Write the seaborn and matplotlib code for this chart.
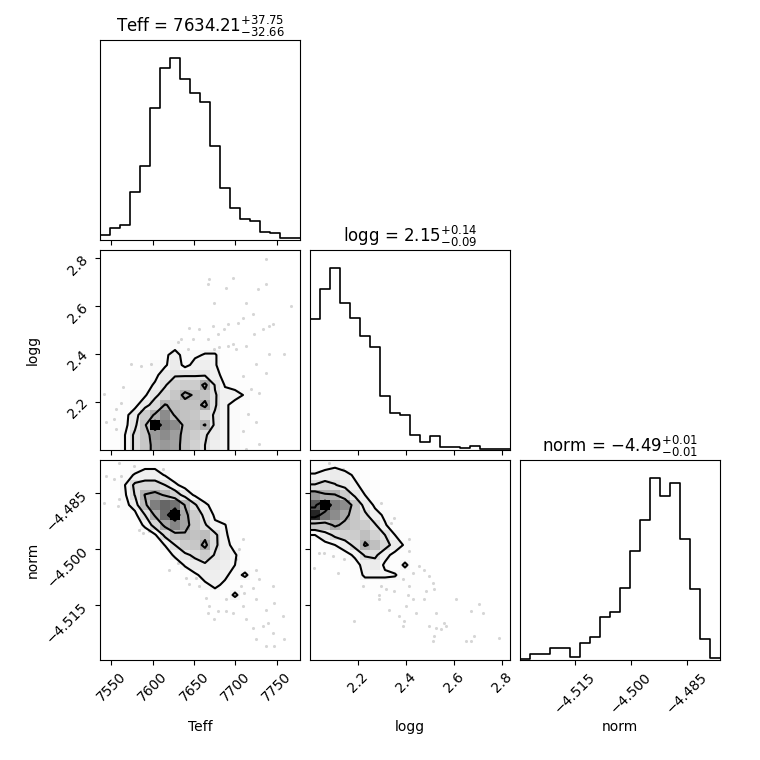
import numpy as np
import pandas as pd
import matplotlib
matplotlib.use("Agg")
import matplotlib.pyplot as plt
from matplotlib.colors import LinearSegmentedColormap
import seaborn as sns

# ---------------- data ----------------
labels = ["Teff", "logg", "norm"]
ranges = [(7536.5, 7778.0), (1.998, 2.833), (-4.5296, -4.4761)]
ticks = [[7550, 7600, 7650, 7700, 7750],
         [2.2, 2.4, 2.6, 2.8],
         [-4.515, -4.500, -4.485]]
medians = ["7634.21", "2.15", "-4.49"]
err_minus = ["32.66", "0.09", "0.01"]
err_plus = ["37.75", "0.14", "0.01"]

hist_teff = [15, 35, 45, 143, 221, 395, 513, 543, 480, 438,
             413, 281, 156, 96, 63, 56, 25, 21, 6, 6]
hist_logg = [394, 482, 545, 440, 397, 343, 309, 163, 112, 105,
             45, 23, 43, 10, 10, 7, 13, 2, 2, 2]
hist_norm = [2, 18, 18, 35, 35, 10, 52, 68, 128, 143,
             215, 328, 419, 545, 493, 530, 363, 213, 63, 7]

# contour levels (outer -> inner), same units as the density grids (max = 100)
levels = [4, 12, 30, 70]

Z = [0] * 20
# 2D density grids: rows from top (high y) to bottom (low y), columns low x -> high x
dens_logg_teff = [
    Z, Z, Z, Z, Z, Z, Z, Z, Z,
    [0, 0, 0, 0, 0, 0, 1, 2, 1, 0, 1, 1, 0, 0, 0, 0, 0, 0, 0, 0],
    [0, 0, 0, 0, 0, 1, 3, 6, 2, 3, 4.5, 4.5, 1, 0, 0, 0, 0, 0, 0, 0],
    [0, 0, 0, 0, 1, 2, 3, 8, 2, 6, 7, 4.5, 1, 0, 0, 0, 0, 0, 0, 0],
    [0, 0, 0, 1, 1, 2, 8, 11, 11, 11, 10.5, 6, 2, 1, 0, 0, 0, 0, 0, 0],
    [0, 0, 0, 1, 1, 5, 11, 18, 20, 20, 34, 11, 3.5, 2, 1, 0, 0, 0, 0, 0],
    [0, 0, 1, 2, 3, 10, 16, 22, 34, 28, 24, 13, 6, 6, 3.5, 1, 0, 0, 0, 0],
    [0, 1, 1, 2, 9, 16, 31, 26, 24, 24, 34, 13, 5, 2, 1, 0, 0, 0, 0, 0],
    [0, 1, 2, 8, 20, 32, 45, 28, 24, 22, 16, 11, 5, 2, 1, 0, 0, 0, 0, 0],
    [0, 1, 2, 10, 24, 100, 50, 45, 25, 24, 31, 9, 5, 2, 1, 0, 0, 0, 0, 0],
    [0, 1, 4, 14, 22, 40, 45, 38, 24, 20, 13, 8, 5, 2, 1, 0, 0, 0, 0, 0],
    [0, 1, 4, 14, 22, 36, 40, 36, 24, 18, 12, 7, 5, 2, 1, 0, 0, 0, 0, 0],
]
dens_norm_teff = [
    [0, 0, 0, 1, 2, 2, 1, 0, 0, 0, 0, 0, 0, 0, 0, 0, 0, 0, 0, 0],
    [0, 0, 2, 4.5, 7, 7, 3.5, 1, 0, 0, 0, 0, 0, 0, 0, 0, 0, 0, 0, 0],
    [0, 1, 4, 14, 16, 16, 12, 5, 2, 1, 0, 0, 0, 0, 0, 0, 0, 0, 0, 0],
    [0, 0, 3, 12.5, 31, 36, 28, 18, 8, 3, 1, 0, 0, 0, 0, 0, 0, 0, 0, 0],
    [0, 0, 2, 7, 26, 50, 60, 55, 29, 13, 5, 2, 0, 0, 0, 0, 0, 0, 0, 0],
    [0, 0, 1, 2, 12, 32, 58, 100, 34, 20, 9, 3, 1, 0, 0, 0, 0, 0, 0, 0],
    [0, 0, 0, 1, 5, 16, 34, 48, 36, 22, 13, 5, 4.2, 1, 0, 0, 0, 0, 0, 0],
    [0, 0, 0, 0, 1, 3, 14, 25, 28, 24, 26, 14, 5, 1, 0, 0, 0, 0, 0, 0],
    [0, 0, 0, 0, 0, 1, 4.2, 12, 20, 22, 34, 14, 6, 2, 0, 0, 0, 0, 0, 0],
    [0, 0, 0, 0, 0, 0, 1, 5, 10, 14, 20, 11, 8, 4.5, 1, 0, 0, 0, 0, 0],
    [0, 0, 0, 0, 0, 0, 0, 1, 4.5, 8, 10, 8, 7, 4, 1, 0, 0, 0, 0, 0],
    [0, 0, 0, 0, 0, 0, 0, 0, 1, 3, 6, 7, 5, 2, 5, 1, 0, 0, 0, 0],
    [0, 0, 0, 0, 0, 0, 0, 0, 0, 1, 3, 5, 3, 1, 0, 0, 0, 0, 0, 0],
    [0, 0, 0, 0, 0, 0, 0, 0, 0, 0, 0, 2, 1, 5, 1, 0, 0, 0, 0, 0],
    Z, Z, Z, Z, Z, Z,
]
dens_norm_logg = [
    [1, 2, 2.5, 1, 0, 0, 0, 0, 0, 0, 0, 0, 0, 0, 0, 0, 0, 0, 0, 0],
    [4.5, 6, 8, 6, 3, 1, 0, 0, 0, 0, 0, 0, 0, 0, 0, 0, 0, 0, 0, 0],
    [12.5, 16, 12.5, 9, 5, 2, 1, 0, 0, 0, 0, 0, 0, 0, 0, 0, 0, 0, 0, 0],
    [40, 32, 31, 20, 10, 4, 1, 0, 0, 0, 0, 0, 0, 0, 0, 0, 0, 0, 0, 0],
    [65, 100, 50, 45, 22, 8, 3, 1, 0, 0, 0, 0, 0, 0, 0, 0, 0, 0, 0, 0],
    [85, 55, 45, 35, 22, 14, 6, 3, 1, 0, 0, 0, 0, 0, 0, 0, 0, 0, 0, 0],
    [20, 22, 33, 26, 22, 20, 13, 4.5, 1, 0, 0, 0, 0, 0, 0, 0, 0, 0, 0, 0],
    [4, 8, 14, 18, 20, 25, 18, 12, 4, 1, 0, 0, 0, 0, 0, 0, 0, 0, 0, 0],
    [1, 2, 4, 7, 15, 32, 25, 16, 8, 3, 1, 0, 0, 0, 0, 0, 0, 0, 0, 0],
    [0, 1, 1, 2, 5, 13, 14, 6, 2, 1, 0, 0, 0, 0, 0, 0, 0, 0, 0, 0],
    [0, 0, 0, 1, 2, 6, 8, 3, 1, 5, 1, 0, 0, 0, 0, 0, 0, 0, 0, 0],
    [0, 0, 0, 0, 1, 5, 5, 5, 4.5, 1, 1, 0, 0, 0, 0, 0, 0, 0, 0, 0],
    [0, 0, 0, 0, 0, 1, 1, 1, 1, 1, 1, 0, 0, 0, 0, 0, 0, 0, 0, 0],
    Z, Z, Z, Z, Z, Z, Z,
]

# scattered samples outside the contours
pts_a_teff = [7736.9, 7668.5, 7666.5, 7688.6, 7696.7, 7726.9, 7736.9, 7767.1, 7674.6, 7712.8,
              7720.8, 7702.7, 7708.8, 7690.7, 7686.6, 7678.6, 7672.5, 7656.4, 7644.4, 7648.4,
              7634.3, 7630.3, 7666.5, 7680.6, 7690.7, 7696.7, 7700.7, 7712.8, 7722.9, 7741.0,
              7745.0, 7732.9, 7759.1, 7741.0, 7724.9, 7736.9, 7708.8, 7718.8, 7728.9, 7714.8,
              7724.9, 7708.8, 7728.9, 7712.8, 7586.0, 7598.1, 7563.9, 7541.7, 7561.9, 7555.8,
              7543.7, 7553.8, 7555.8, 7574.0, 7642.4, 7674.6]
pts_a_logg = [2.794, 2.711, 2.690, 2.676, 2.718, 2.669, 2.690, 2.599, 2.613, 2.613,
              2.565, 2.530, 2.551, 2.523, 2.502, 2.481, 2.516, 2.502, 2.509, 2.460,
              2.460, 2.447, 2.460, 2.426, 2.433, 2.440, 2.419, 2.433, 2.481, 2.516,
              2.523, 2.502, 2.398, 2.398, 2.356, 2.321, 2.307, 2.252, 2.238, 2.148,
              2.113, 2.078, 2.023, 2.002, 2.349, 2.356, 2.259, 2.231, 2.196, 2.168,
              2.113, 2.127, 2.085, 2.356, 2.419, 2.419]

pts_b_teff = [7543.7, 7553.8, 7561.9, 7541.7, 7559.8, 7557.8, 7584.0, 7588.0, 7596.1, 7620.2,
              7630.3, 7640.3, 7652.4, 7644.4, 7656.4, 7664.5, 7668.5, 7678.6, 7688.6, 7696.7,
              7708.8, 7710.8, 7706.8, 7700.7, 7704.7, 7708.8, 7724.9, 7728.9, 7720.8, 7724.9,
              7745.0, 7747.0, 7736.9, 7712.8, 7720.8, 7732.9, 7739.0, 7745.0, 7757.1, 7759.1,
              7724.9, 7736.9, 7747.0, 7559.8, 7612.2, 7578.0, 7674.6, 7666.5, 7688.6]
pts_b_norm = [-4.4804, -4.4813, -4.4804, -4.4875, -4.4866, -4.4884, -4.4947, -4.4955, -4.4951, -4.5054,
              -4.5036, -4.5076, -4.5076, -4.5094, -4.5098, -4.5129, -4.5152, -4.5165, -4.5165, -4.5170,
              -4.5152, -4.5116, -4.5098, -4.5027, -4.5000, -4.4973, -4.5054, -4.5080, -4.5103, -4.5134,
              -4.5098, -4.5143, -4.5161, -4.5187, -4.5210, -4.5205, -4.5196, -4.5223, -4.5179, -4.5241,
              -4.5241, -4.5259, -4.5259, -4.4768, -4.4786, -4.4777, -4.5187, -4.5170, -4.5134]

pts_c_logg = [2.079, 2.134, 2.295, 2.336, 2.350, 2.413, 2.413, 2.037, 2.058, 2.016,
              2.093, 2.141, 2.114, 2.218, 2.295, 2.288, 2.315, 2.350, 2.385, 2.413,
              2.406, 2.427, 2.455, 2.475, 2.496, 2.517, 2.510, 2.482, 2.427, 2.399,
              2.371, 2.329, 2.385, 2.392, 2.441, 2.475, 2.524, 2.559, 2.545, 2.524,
              2.496, 2.517, 2.510, 2.566, 2.608, 2.670, 2.705, 2.719, 2.684, 2.649,
              2.670, 2.789, 2.183, 2.288]
pts_c_norm = [-4.4768, -4.4786, -4.4875, -4.4929, -4.4915, -4.4973, -4.5005, -4.5009, -4.5009, -4.5049,
              -4.5018, -4.5027, -4.5063, -4.5098, -4.5098, -4.5121, -4.5107, -4.5112, -4.5080, -4.5098,
              -4.5121, -4.5063, -4.5045, -4.5054, -4.5071, -4.5107, -4.5089, -4.5112, -4.5134, -4.5152,
              -4.5179, -4.5161, -4.5205, -4.5192, -4.5170, -4.5134, -4.5170, -4.5196, -4.5214, -4.5210,
              -4.5205, -4.5232, -4.5245, -4.5205, -4.5134, -4.5165, -4.5147, -4.5170, -4.5232, -4.5245,
              -4.5245, -4.5236, -4.5192, -4.5134]

hists = [hist_teff, hist_logg, hist_norm]
pairs = {(1, 0): (dens_logg_teff, pts_a_teff, pts_a_logg),
         (2, 0): (dens_norm_teff, pts_b_teff, pts_b_norm),
         (2, 1): (dens_norm_logg, pts_c_logg, pts_c_norm)}

# ---------------- drawing ----------------
# black with opacity growing linearly with density (transparent at zero)
density_cmap = LinearSegmentedColormap.from_list("density_cmap", [(0, 0, 0, 0), (0, 0, 0, 1)])

K = 3
fig, axes = plt.subplots(K, K, figsize=(7.6, 7.6), dpi=100)
lb = 1.0 / 7.6
tr = 7.2 / 7.6
fig.subplots_adjust(left=lb, bottom=lb, right=tr, top=tr, wspace=0.05, hspace=0.05)


def draw_density(ax, grid, xr, yr, px, py):
    H = np.flipud(np.array(grid, dtype=float))
    ny, nx = H.shape
    xe = np.linspace(xr[0], xr[1], nx + 1)
    ye = np.linspace(yr[0], yr[1], ny + 1)
    xc = 0.5 * (xe[1:] + xe[:-1])
    yc = 0.5 * (ye[1:] + ye[:-1])
    H2 = H.min() + np.zeros((ny + 4, nx + 4))
    H2[2:-2, 2:-2] = H
    H2[2:-2, 1] = H[:, 0]
    H2[2:-2, -2] = H[:, -1]
    H2[1, 2:-2] = H[0]
    H2[-2, 2:-2] = H[-1]
    H2[1, 1] = H[0, 0]
    H2[1, -2] = H[0, -1]
    H2[-2, 1] = H[-1, 0]
    H2[-2, -2] = H[-1, -1]
    dx = xc[1] - xc[0]
    dy = yc[1] - yc[0]
    X2 = np.concatenate([xc[0] + np.array([-2, -1]) * dx, xc, xc[-1] + np.array([1, 2]) * dx])
    Y2 = np.concatenate([yc[0] + np.array([-2, -1]) * dy, yc, yc[-1] + np.array([1, 2]) * dy])

    pts = pd.DataFrame({"x": px, "y": py})
    sns.scatterplot(data=pts, x="x", y="y", ax=ax, color="k", s=5, alpha=0.16,
                    linewidth=0, zorder=-1, legend=False)
    ax.contourf(X2, Y2, H2, [min(levels), H.max()], colors=["white"], antialiased=False)
    ax.pcolormesh(xe, ye, H, cmap=density_cmap, vmin=0, vmax=H.max(), shading="flat")
    ax.contour(X2, Y2, H2, sorted(levels), colors="k", linewidths=1.5)
    ax.set_xlim(xr)
    ax.set_ylim(yr)


for i in range(K):
    for j in range(K):
        ax = axes[i, j]
        if j > i:
            ax.set_visible(False)
            continue
        if i == j:
            lo, hi = ranges[i]
            counts = np.array(hists[i], dtype=float)
            nb = len(counts)
            edges = np.linspace(lo, hi, nb + 1)
            centers = 0.5 * (edges[1:] + edges[:-1])
            hdf = pd.DataFrame({"v": centers, "w": counts})
            sns.histplot(data=hdf, x="v", weights="w", bins=nb, binrange=(lo, hi),
                         element="step", fill=False, color="k", linewidth=1.2, ax=ax)
            ax.set_xlim(lo, hi)
            ax.set_ylim(0, 1.1 * counts.max())
            ax.set_yticks([])
            ax.set_ylabel("")
            ax.set_title("{0} = ${1}_{{-{2}}}^{{+{3}}}$".format(
                labels[i], medians[i], err_minus[i], err_plus[i]))
        else:
            grid, px, py = pairs[(i, j)]
            draw_density(ax, grid, ranges[j], ranges[i], px, py)
            ax.set_yticks(ticks[i])
            ax.set_ylim(ranges[i])
            if j > 0:
                ax.tick_params(labelleft=False)
                ax.set_ylabel("")
            else:
                ax.set_ylabel(labels[i])
                ax.yaxis.set_label_coords(-0.3, 0.5)
                plt.setp(ax.get_yticklabels(), rotation=45)
        ax.set_xticks(ticks[j])
        ax.set_xlim(ranges[j])
        if i < K - 1:
            ax.tick_params(labelbottom=False)
            ax.set_xlabel("")
        else:
            ax.set_xlabel(labels[j])
            ax.xaxis.set_label_coords(0.5, -0.3)
            plt.setp(ax.get_xticklabels(), rotation=45)

fig.savefig("out.png", dpi=100)
